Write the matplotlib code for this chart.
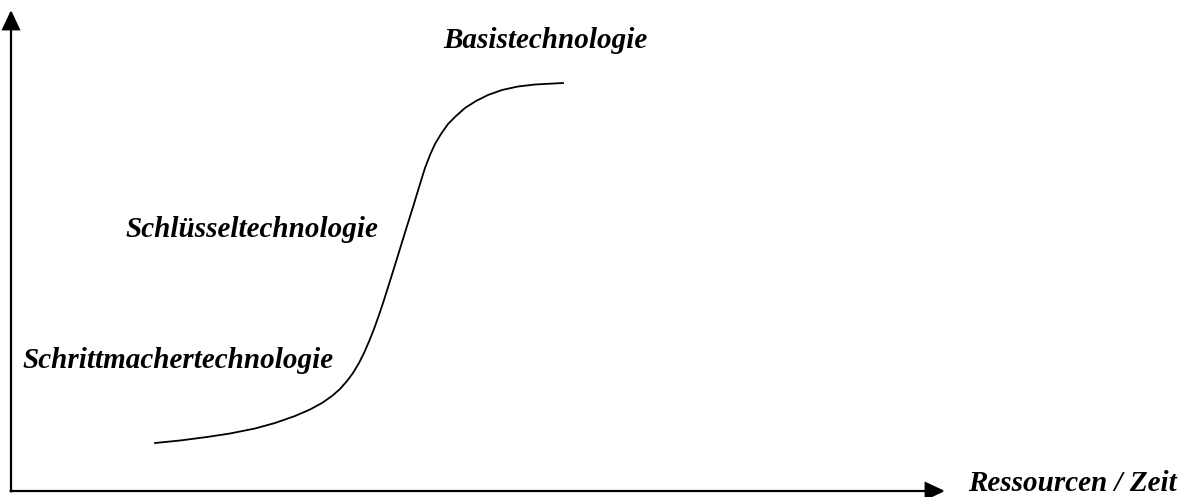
import matplotlib.pyplot as plt

# S-curve (x = Ressourcen/Zeit, y = Leistung), pixel-like units
curve_x = [144, 169, 196, 219, 244, 264, 284, 299, 311, 321, 329, 336, 342,
           348, 353, 358, 363, 368, 373, 379, 386, 394, 402, 409, 414, 419,
           424, 430, 437, 445, 454, 465, 477, 491, 507, 524, 552]
curve_y = [48, 50.5, 54, 57.5, 62.5, 68, 75, 81.5, 88, 95, 102, 110, 118,
           128, 138, 149.5, 162, 176, 191, 210, 232.5, 258.5, 284, 307, 323, 336,
           347, 357, 367, 375, 383, 390, 396, 401, 404.5, 406.5, 408]

labels = ["Basistechnologie", "Schlüsseltechnologie", "Schrittmachertechnologie"]
label_x = [432, 114, 11]
label_y = [443, 254, 123]
x_label = "Ressourcen / Zeit"

fig = plt.figure(figsize=(11.89, 4.97), dpi=100)
ax = fig.add_axes([0, 0, 1, 1])
ax.set_xlim(-11, 1178)
ax.set_ylim(-6, 491)
ax.axis('off')

# axes with arrow heads
arrow = dict(arrowstyle='-|>,head_length=0.6,head_width=0.28', lw=1.6,
             color='black', mutation_scale=20, shrinkA=0, shrinkB=0,
             joinstyle='miter')
ax.annotate('', xy=(934, 0), xytext=(-0.5, 0), arrowprops=arrow)
ax.annotate('', xy=(0, 481), xytext=(0, -0.5), arrowprops=arrow)

# the curve
ax.plot(curve_x, curve_y, color='black', lw=1.3, solid_joinstyle='round')

font = dict(family='Liberation Serif', weight='bold', style='italic', size=21)
for txt, x, y in zip(labels, label_x, label_y):
    ax.text(x, y, txt, ha='left', va='baseline', **font)
ax.text(957, 0, x_label, ha='left', va='baseline', **font)

fig.savefig('out.png', dpi=100)
